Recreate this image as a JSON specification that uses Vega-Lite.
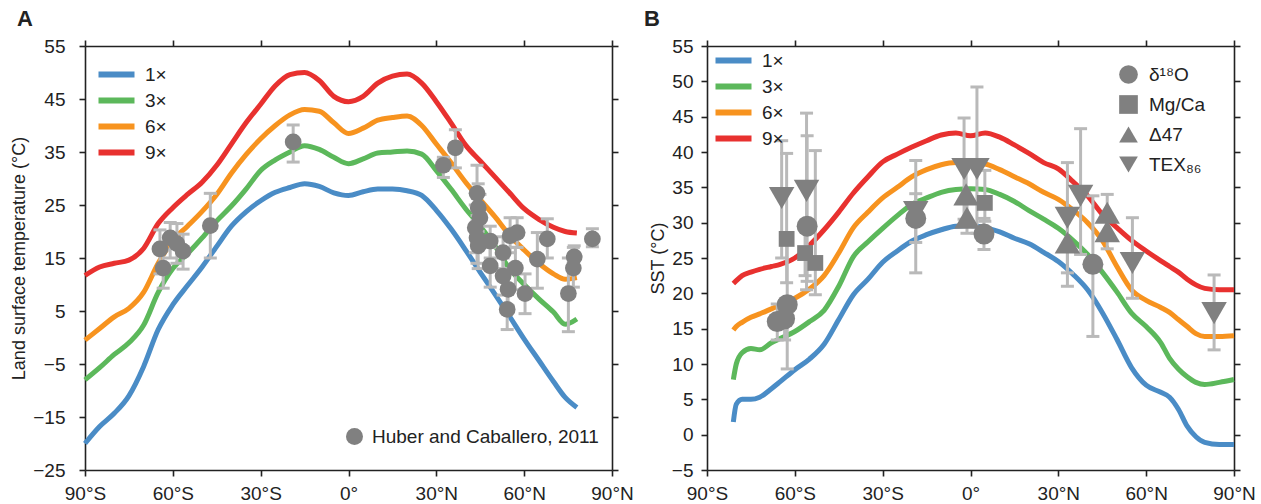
{
"$schema":"https://vega.github.io/schema/vega-lite/v6.json",
"padding":{"left":10,"top":8,"right":5,"bottom":0},
"config":{
 "font":"Liberation Sans",
 "view":{"stroke":null},
 "axis":{"grid":false,"domainColor":"#222","domainWidth":1.6,"tickColor":"#222","tickWidth":1.6,"tickSize":6,"labelFontSize":19,"labelColor":"#222","labelPadding":8,"titleFontSize":18,"titleFontWeight":"normal","titleColor":"#222","labelFlush":false,"labelOverlap":false},
 "legend":{"labelFontSize":19,"labelColor":"#222","labelLimit":0},
 "title":{"fontSize":22,"fontWeight":"bold","anchor":"start","color":"#222","frame":"group"}
},
"resolve":{"scale":{"color":"independent","shape":"independent","size":"independent"},"legend":{"color":"independent","shape":"independent"}},
"datasets":{
"linesA":[
{"lat":-90,"v":-20,"s":"1×"},{"lat":-85,"v":-16.8,"s":"1×"},{"lat":-80,"v":-14.3,"s":"1×"},{"lat":-75,"v":-11,"s":"1×"},{"lat":-70,"v":-5.5,"s":"1×"},{"lat":-65,"v":1.5,"s":"1×"},{"lat":-60,"v":6.2,"s":"1×"},{"lat":-55,"v":9.8,"s":"1×"},{"lat":-50,"v":13.3,"s":"1×"},{"lat":-45,"v":17.2,"s":"1×"},{"lat":-40,"v":21,"s":"1×"},{"lat":-35,"v":23.7,"s":"1×"},{"lat":-30,"v":25.8,"s":"1×"},{"lat":-25,"v":27.4,"s":"1×"},{"lat":-20,"v":28.3,"s":"1×"},{"lat":-15,"v":29,"s":"1×"},{"lat":-10,"v":28.5,"s":"1×"},{"lat":-5,"v":27.3,"s":"1×"},{"lat":0,"v":26.8,"s":"1×"},{"lat":5,"v":27.5,"s":"1×"},{"lat":10,"v":28,"s":"1×"},{"lat":15,"v":28,"s":"1×"},{"lat":20,"v":27.7,"s":"1×"},{"lat":25,"v":26.8,"s":"1×"},{"lat":30,"v":24,"s":"1×"},{"lat":35,"v":20.5,"s":"1×"},{"lat":40,"v":16.5,"s":"1×"},{"lat":45,"v":12.3,"s":"1×"},{"lat":50,"v":8.2,"s":"1×"},{"lat":55,"v":4,"s":"1×"},{"lat":60,"v":-0.3,"s":"1×"},{"lat":65,"v":-4.3,"s":"1×"},{"lat":70,"v":-8.3,"s":"1×"},{"lat":74,"v":-11.3,"s":"1×"},{"lat":78,"v":-13.2,"s":"1×"},
{"lat":-90,"v":-8,"s":"3×"},{"lat":-85,"v":-5.7,"s":"3×"},{"lat":-80,"v":-3.2,"s":"3×"},{"lat":-75,"v":-1,"s":"3×"},{"lat":-70,"v":2.3,"s":"3×"},{"lat":-65,"v":8.5,"s":"3×"},{"lat":-60,"v":13,"s":"3×"},{"lat":-55,"v":15.8,"s":"3×"},{"lat":-50,"v":18.8,"s":"3×"},{"lat":-45,"v":22,"s":"3×"},{"lat":-40,"v":24.8,"s":"3×"},{"lat":-35,"v":28,"s":"3×"},{"lat":-30,"v":31.5,"s":"3×"},{"lat":-25,"v":33.5,"s":"3×"},{"lat":-20,"v":35,"s":"3×"},{"lat":-15,"v":36.2,"s":"3×"},{"lat":-10,"v":35.5,"s":"3×"},{"lat":-5,"v":34,"s":"3×"},{"lat":0,"v":32.8,"s":"3×"},{"lat":5,"v":33.7,"s":"3×"},{"lat":10,"v":34.8,"s":"3×"},{"lat":15,"v":35,"s":"3×"},{"lat":20,"v":35.2,"s":"3×"},{"lat":25,"v":34.6,"s":"3×"},{"lat":30,"v":31.5,"s":"3×"},{"lat":35,"v":28,"s":"3×"},{"lat":40,"v":24.3,"s":"3×"},{"lat":45,"v":21,"s":"3×"},{"lat":50,"v":17.3,"s":"3×"},{"lat":55,"v":13,"s":"3×"},{"lat":60,"v":10,"s":"3×"},{"lat":65,"v":7.3,"s":"3×"},{"lat":70,"v":4.8,"s":"3×"},{"lat":74,"v":2.5,"s":"3×"},{"lat":78,"v":3.5,"s":"3×"},
{"lat":-90,"v":-0.5,"s":"6×"},{"lat":-85,"v":1.7,"s":"6×"},{"lat":-80,"v":3.9,"s":"6×"},{"lat":-75,"v":5.5,"s":"6×"},{"lat":-70,"v":8.5,"s":"6×"},{"lat":-65,"v":14,"s":"6×"},{"lat":-60,"v":18.3,"s":"6×"},{"lat":-55,"v":21,"s":"6×"},{"lat":-50,"v":23.8,"s":"6×"},{"lat":-45,"v":27,"s":"6×"},{"lat":-40,"v":31,"s":"6×"},{"lat":-35,"v":34.5,"s":"6×"},{"lat":-30,"v":37.5,"s":"6×"},{"lat":-25,"v":40,"s":"6×"},{"lat":-20,"v":42,"s":"6×"},{"lat":-15,"v":43,"s":"6×"},{"lat":-10,"v":42.7,"s":"6×"},{"lat":-5,"v":40.5,"s":"6×"},{"lat":0,"v":38.5,"s":"6×"},{"lat":5,"v":39.5,"s":"6×"},{"lat":10,"v":41,"s":"6×"},{"lat":15,"v":41.5,"s":"6×"},{"lat":20,"v":41.8,"s":"6×"},{"lat":25,"v":40,"s":"6×"},{"lat":30,"v":36.5,"s":"6×"},{"lat":35,"v":33,"s":"6×"},{"lat":40,"v":29.3,"s":"6×"},{"lat":45,"v":26,"s":"6×"},{"lat":50,"v":22.8,"s":"6×"},{"lat":55,"v":19.3,"s":"6×"},{"lat":60,"v":16.5,"s":"6×"},{"lat":65,"v":14,"s":"6×"},{"lat":70,"v":12,"s":"6×"},{"lat":74,"v":11,"s":"6×"},{"lat":78,"v":11.3,"s":"6×"},
{"lat":-90,"v":11.7,"s":"9×"},{"lat":-85,"v":13.3,"s":"9×"},{"lat":-80,"v":14,"s":"9×"},{"lat":-75,"v":14.6,"s":"9×"},{"lat":-70,"v":16.8,"s":"9×"},{"lat":-65,"v":21.5,"s":"9×"},{"lat":-60,"v":24.5,"s":"9×"},{"lat":-55,"v":27,"s":"9×"},{"lat":-50,"v":29.3,"s":"9×"},{"lat":-45,"v":32.5,"s":"9×"},{"lat":-40,"v":36.5,"s":"9×"},{"lat":-35,"v":40.5,"s":"9×"},{"lat":-30,"v":44,"s":"9×"},{"lat":-25,"v":47.5,"s":"9×"},{"lat":-20,"v":49.6,"s":"9×"},{"lat":-15,"v":50,"s":"9×"},{"lat":-10,"v":48.5,"s":"9×"},{"lat":-5,"v":45.5,"s":"9×"},{"lat":0,"v":44.5,"s":"9×"},{"lat":5,"v":45.5,"s":"9×"},{"lat":10,"v":48,"s":"9×"},{"lat":15,"v":49.3,"s":"9×"},{"lat":20,"v":49.7,"s":"9×"},{"lat":25,"v":48,"s":"9×"},{"lat":30,"v":44.5,"s":"9×"},{"lat":35,"v":40.5,"s":"9×"},{"lat":40,"v":36.3,"s":"9×"},{"lat":45,"v":33.3,"s":"9×"},{"lat":50,"v":30.3,"s":"9×"},{"lat":55,"v":27.3,"s":"9×"},{"lat":60,"v":24.3,"s":"9×"},{"lat":65,"v":22.3,"s":"9×"},{"lat":70,"v":20.8,"s":"9×"},{"lat":74,"v":20,"s":"9×"},{"lat":78,"v":19.7,"s":"9×"}
],
"ptsA":[
{"lat":-64.4,"v":16.7,"lo":12,"hi":20.3,"src":"Huber and Caballero, 2011"},
{"lat":-60.9,"v":18.8,"lo":15,"hi":21.7,"src":"Huber and Caballero, 2011"},
{"lat":-58.6,"v":17.7,"lo":14,"hi":21.5,"src":"Huber and Caballero, 2011"},
{"lat":-56.5,"v":16.3,"lo":12.9,"hi":19.5,"src":"Huber and Caballero, 2011"},
{"lat":-63.3,"v":13.1,"lo":9.3,"hi":16.5,"src":"Huber and Caballero, 2011"},
{"lat":-47.2,"v":21.1,"lo":15,"hi":27.2,"src":"Huber and Caballero, 2011"},
{"lat":-18.9,"v":36.9,"lo":33.1,"hi":40.1,"src":"Huber and Caballero, 2011"},
{"lat":32.4,"v":32.5,"lo":30.2,"hi":34,"src":"Huber and Caballero, 2011"},
{"lat":36.5,"v":35.8,"lo":32,"hi":39.2,"src":"Huber and Caballero, 2011"},
{"lat":43.9,"v":27.2,"lo":22,"hi":32.5,"src":"Huber and Caballero, 2011"},
{"lat":44.3,"v":24.5,"lo":20,"hi":29,"src":"Huber and Caballero, 2011"},
{"lat":44.9,"v":22.6,"lo":18,"hi":27,"src":"Huber and Caballero, 2011"},
{"lat":43.3,"v":20.7,"lo":16,"hi":25,"src":"Huber and Caballero, 2011"},
{"lat":43.9,"v":18.8,"lo":14,"hi":23,"src":"Huber and Caballero, 2011"},
{"lat":44.3,"v":17.3,"lo":13,"hi":21,"src":"Huber and Caballero, 2011"},
{"lat":48.4,"v":18.2,"lo":15,"hi":21,"src":"Huber and Caballero, 2011"},
{"lat":48.4,"v":13.5,"lo":9.5,"hi":17,"src":"Huber and Caballero, 2011"},
{"lat":52.8,"v":16,"lo":13,"hi":19,"src":"Huber and Caballero, 2011"},
{"lat":55.2,"v":19.2,"lo":16,"hi":22.6,"src":"Huber and Caballero, 2011"},
{"lat":57.6,"v":19.8,"lo":17,"hi":22.6,"src":"Huber and Caballero, 2011"},
{"lat":57,"v":13.1,"lo":9,"hi":17,"src":"Huber and Caballero, 2011"},
{"lat":52.8,"v":11.6,"lo":8,"hi":15,"src":"Huber and Caballero, 2011"},
{"lat":54.5,"v":9.1,"lo":6,"hi":12,"src":"Huber and Caballero, 2011"},
{"lat":54.2,"v":5.3,"lo":1.5,"hi":9,"src":"Huber and Caballero, 2011"},
{"lat":60.3,"v":8.3,"lo":4.5,"hi":12,"src":"Huber and Caballero, 2011"},
{"lat":64.5,"v":14.8,"lo":9.3,"hi":19.8,"src":"Huber and Caballero, 2011"},
{"lat":67.9,"v":18.6,"lo":15,"hi":22.4,"src":"Huber and Caballero, 2011"},
{"lat":83.3,"v":18.6,"lo":17.1,"hi":20.5,"src":"Huber and Caballero, 2011"},
{"lat":77.1,"v":15.2,"lo":13,"hi":17.3,"src":"Huber and Caballero, 2011"},
{"lat":76.8,"v":13.1,"lo":9.5,"hi":17,"src":"Huber and Caballero, 2011"},
{"lat":75.1,"v":8.3,"lo":1.1,"hi":15,"src":"Huber and Caballero, 2011"}
],
"linesB":[
{"lat":-81,"v":1.8,"s":"1×"},{"lat":-80,"v":4.3,"s":"1×"},{"lat":-78,"v":5,"s":"1×"},{"lat":-75,"v":5,"s":"1×"},{"lat":-72,"v":5.3,"s":"1×"},{"lat":-68,"v":6.5,"s":"1×"},{"lat":-65,"v":7.5,"s":"1×"},{"lat":-60,"v":9.2,"s":"1×"},{"lat":-55,"v":10.7,"s":"1×"},{"lat":-50,"v":12.8,"s":"1×"},{"lat":-45,"v":16.3,"s":"1×"},{"lat":-40,"v":19.8,"s":"1×"},{"lat":-35,"v":22,"s":"1×"},{"lat":-30,"v":24.4,"s":"1×"},{"lat":-25,"v":26,"s":"1×"},{"lat":-20,"v":27.4,"s":"1×"},{"lat":-15,"v":28.3,"s":"1×"},{"lat":-10,"v":29,"s":"1×"},{"lat":-5,"v":29.5,"s":"1×"},{"lat":0,"v":29.6,"s":"1×"},{"lat":5,"v":29.3,"s":"1×"},{"lat":10,"v":28.7,"s":"1×"},{"lat":15,"v":27.8,"s":"1×"},{"lat":20,"v":27,"s":"1×"},{"lat":25,"v":25.8,"s":"1×"},{"lat":30,"v":24.5,"s":"1×"},{"lat":35,"v":22.7,"s":"1×"},{"lat":40,"v":20.5,"s":"1×"},{"lat":45,"v":17.3,"s":"1×"},{"lat":50,"v":13.5,"s":"1×"},{"lat":55,"v":9.5,"s":"1×"},{"lat":60,"v":7,"s":"1×"},{"lat":65,"v":6,"s":"1×"},{"lat":68,"v":5.3,"s":"1×"},{"lat":71,"v":3.6,"s":"1×"},{"lat":74,"v":1.2,"s":"1×"},{"lat":77,"v":-0.3,"s":"1×"},{"lat":80,"v":-1.1,"s":"1×"},{"lat":85,"v":-1.4,"s":"1×"},{"lat":90,"v":-1.4,"s":"1×"},
{"lat":-81,"v":7.8,"s":"3×"},{"lat":-80,"v":10,"s":"3×"},{"lat":-78,"v":11.6,"s":"3×"},{"lat":-75,"v":12.2,"s":"3×"},{"lat":-72,"v":12,"s":"3×"},{"lat":-68,"v":13,"s":"3×"},{"lat":-65,"v":13.6,"s":"3×"},{"lat":-60,"v":14.6,"s":"3×"},{"lat":-55,"v":16,"s":"3×"},{"lat":-50,"v":17.6,"s":"3×"},{"lat":-45,"v":21,"s":"3×"},{"lat":-40,"v":25.2,"s":"3×"},{"lat":-35,"v":27.3,"s":"3×"},{"lat":-30,"v":29.2,"s":"3×"},{"lat":-25,"v":31,"s":"3×"},{"lat":-20,"v":32.6,"s":"3×"},{"lat":-15,"v":33.5,"s":"3×"},{"lat":-10,"v":34.3,"s":"3×"},{"lat":-5,"v":34.7,"s":"3×"},{"lat":0,"v":34.8,"s":"3×"},{"lat":5,"v":34.7,"s":"3×"},{"lat":10,"v":34,"s":"3×"},{"lat":15,"v":33,"s":"3×"},{"lat":20,"v":31.7,"s":"3×"},{"lat":25,"v":30.5,"s":"3×"},{"lat":30,"v":29.2,"s":"3×"},{"lat":35,"v":27.5,"s":"3×"},{"lat":40,"v":25.5,"s":"3×"},{"lat":45,"v":23,"s":"3×"},{"lat":50,"v":20.2,"s":"3×"},{"lat":55,"v":17.2,"s":"3×"},{"lat":60,"v":15.3,"s":"3×"},{"lat":65,"v":13,"s":"3×"},{"lat":68,"v":10.8,"s":"3×"},{"lat":71,"v":9.3,"s":"3×"},{"lat":74,"v":8.2,"s":"3×"},{"lat":77,"v":7.4,"s":"3×"},{"lat":80,"v":7.1,"s":"3×"},{"lat":85,"v":7.4,"s":"3×"},{"lat":90,"v":7.8,"s":"3×"},
{"lat":-81,"v":14.8,"s":"6×"},{"lat":-80,"v":15.3,"s":"6×"},{"lat":-78,"v":15.9,"s":"6×"},{"lat":-75,"v":16.6,"s":"6×"},{"lat":-72,"v":17.1,"s":"6×"},{"lat":-68,"v":17.8,"s":"6×"},{"lat":-65,"v":18.4,"s":"6×"},{"lat":-60,"v":19.3,"s":"6×"},{"lat":-55,"v":20.6,"s":"6×"},{"lat":-50,"v":22.5,"s":"6×"},{"lat":-45,"v":25.7,"s":"6×"},{"lat":-40,"v":29.3,"s":"6×"},{"lat":-35,"v":31.5,"s":"6×"},{"lat":-30,"v":33.5,"s":"6×"},{"lat":-25,"v":35,"s":"6×"},{"lat":-20,"v":36.5,"s":"6×"},{"lat":-15,"v":37.5,"s":"6×"},{"lat":-10,"v":38.2,"s":"6×"},{"lat":-5,"v":38.5,"s":"6×"},{"lat":0,"v":38.5,"s":"6×"},{"lat":5,"v":38.3,"s":"6×"},{"lat":10,"v":37.5,"s":"6×"},{"lat":15,"v":36.5,"s":"6×"},{"lat":20,"v":35.5,"s":"6×"},{"lat":25,"v":34.3,"s":"6×"},{"lat":30,"v":33.3,"s":"6×"},{"lat":35,"v":31.8,"s":"6×"},{"lat":40,"v":30,"s":"6×"},{"lat":45,"v":27.5,"s":"6×"},{"lat":50,"v":23.8,"s":"6×"},{"lat":55,"v":20.5,"s":"6×"},{"lat":60,"v":19,"s":"6×"},{"lat":65,"v":18,"s":"6×"},{"lat":68,"v":17.3,"s":"6×"},{"lat":71,"v":16.3,"s":"6×"},{"lat":74,"v":15.3,"s":"6×"},{"lat":77,"v":14.3,"s":"6×"},{"lat":80,"v":13.9,"s":"6×"},{"lat":85,"v":13.9,"s":"6×"},{"lat":90,"v":14,"s":"6×"},
{"lat":-81,"v":21.4,"s":"9×"},{"lat":-80,"v":21.8,"s":"9×"},{"lat":-78,"v":22.5,"s":"9×"},{"lat":-75,"v":23,"s":"9×"},{"lat":-72,"v":23.4,"s":"9×"},{"lat":-68,"v":23.8,"s":"9×"},{"lat":-65,"v":24.1,"s":"9×"},{"lat":-60,"v":25,"s":"9×"},{"lat":-55,"v":26.8,"s":"9×"},{"lat":-50,"v":29,"s":"9×"},{"lat":-45,"v":31.5,"s":"9×"},{"lat":-40,"v":34.2,"s":"9×"},{"lat":-35,"v":36.5,"s":"9×"},{"lat":-30,"v":38.6,"s":"9×"},{"lat":-25,"v":39.7,"s":"9×"},{"lat":-20,"v":40.7,"s":"9×"},{"lat":-15,"v":41.6,"s":"9×"},{"lat":-10,"v":42.4,"s":"9×"},{"lat":-5,"v":42.7,"s":"9×"},{"lat":0,"v":42.3,"s":"9×"},{"lat":5,"v":42.7,"s":"9×"},{"lat":10,"v":42.1,"s":"9×"},{"lat":15,"v":41,"s":"9×"},{"lat":20,"v":39.8,"s":"9×"},{"lat":25,"v":38.5,"s":"9×"},{"lat":30,"v":37.6,"s":"9×"},{"lat":35,"v":35.8,"s":"9×"},{"lat":40,"v":33.8,"s":"9×"},{"lat":45,"v":31.2,"s":"9×"},{"lat":50,"v":29.3,"s":"9×"},{"lat":55,"v":27.5,"s":"9×"},{"lat":60,"v":26,"s":"9×"},{"lat":65,"v":24.6,"s":"9×"},{"lat":68,"v":23.8,"s":"9×"},{"lat":71,"v":23,"s":"9×"},{"lat":74,"v":22,"s":"9×"},{"lat":77,"v":21.2,"s":"9×"},{"lat":80,"v":20.7,"s":"9×"},{"lat":85,"v":20.5,"s":"9×"},{"lat":90,"v":20.5,"s":"9×"}
],
"ptsB":[
{"p":"TEX₈₆","lat":-64.5,"v":33.5,"lo":25,"hi":41.6},
{"p":"Mg/Ca","lat":-62.8,"v":27.7,"lo":21.5,"hi":39.8},
{"p":"δ¹⁸O","lat":-62.6,"v":18.4,"lo":9.3,"hi":27},
{"p":"δ¹⁸O","lat":-66,"v":16,"lo":13.4,"hi":18.5},
{"p":"δ¹⁸O","lat":-63.5,"v":16.4,"lo":13.4,"hi":19},
{"p":"TEX₈₆","lat":-56,"v":34.5,"lo":20.5,"hi":45.5},
{"p":"δ¹⁸O","lat":-55.8,"v":29.5,"lo":21.7,"hi":42.3},
{"p":"Mg/Ca","lat":-56.5,"v":25.7,"lo":22.5,"hi":29},
{"p":"Mg/Ca","lat":-53,"v":24.3,"lo":19.8,"hi":40.2},
{"p":"δ¹⁸O","lat":-18.7,"v":30.6,"lo":22.9,"hi":38.8},
{"p":"TEX₈₆","lat":-18.7,"v":31.5,"lo":27.2,"hi":34.1},
{"p":"Δ47","lat":-1.5,"v":34,"lo":30,"hi":38},
{"p":"Δ47","lat":-1.2,"v":30.7,"lo":28.5,"hi":33},
{"p":"TEX₈₆","lat":-2.2,"v":37.6,"lo":30.5,"hi":44.8},
{"p":"TEX₈₆","lat":2.2,"v":37.6,"lo":28.5,"hi":49.2},
{"p":"Mg/Ca","lat":4.9,"v":32.8,"lo":30.2,"hi":37.4},
{"p":"δ¹⁸O","lat":4.6,"v":28.4,"lo":26.2,"hi":30.6},
{"p":"TEX₈₆","lat":33.1,"v":30.7,"lo":22.9,"hi":38.5},
{"p":"Δ47","lat":33.1,"v":27.2,"lo":21,"hi":31},
{"p":"TEX₈₆","lat":37.6,"v":33.8,"lo":25.5,"hi":43.3},
{"p":"δ¹⁸O","lat":41.8,"v":24.1,"lo":13.9,"hi":33.8},
{"p":"Δ47","lat":46.7,"v":31.4,"lo":28.5,"hi":34},
{"p":"Δ47","lat":46.7,"v":28.8,"lo":26.3,"hi":31},
{"p":"TEX₈₆","lat":55.3,"v":24.3,"lo":19.3,"hi":30.7},
{"p":"TEX₈₆","lat":83.2,"v":17.2,"lo":12,"hi":22.6}
]
},
"spacing":10,
"hconcat":[
{
 "width":527,"height":424,
 "title":{"text":"A","dx":-68,"offset":6},
 "layer":[
  {"data":{"name":"linesA"},"mark":{"type":"line","strokeWidth":5,"interpolate":"monotone"},
   "encoding":{
    "x":{"field":"lat","type":"quantitative","scale":{"domain":[-90,90],"nice":false,"zero":false},"axis":{"orient":"bottom","values":[-90,-60,-30,0,30,60,90],"title":null,"labelExpr":"datum.value < 0 ? (-datum.value) + '°S' : (datum.value > 0 ? datum.value + '°N' : '0°')"}},
    "y":{"field":"v","type":"quantitative","scale":{"domain":[-25,55],"nice":false,"zero":false},"axis":{"orient":"left","values":[-25,-15,-5,5,15,25,35,45,55],"title":"Land surface temperature (°C)","titlePadding":4,"labelPadding":14,"labelExpr":"datum.value < 0 ? '−' + (-datum.value) : '' + datum.value"}},
    "color":{"field":"s","type":"nominal","scale":{"domain":["1×","3×","6×","9×"],"range":["#4a8cc6","#5cb85b","#f7931f","#e8312f"]},
     "legend":{"title":null,"orient":"none","legendX":22,"legendY":19,"symbolType":"M-3,0H3","symbolSize":144,"symbolStrokeWidth":6,"labelOffset":19,"rowPadding":1}}
   }},
  {"data":{"name":"ptsA"},"mark":{"type":"rule","color":"#b9b9b9","strokeWidth":3},
   "encoding":{"x":{"field":"lat","type":"quantitative","axis":null},"y":{"field":"lo","type":"quantitative","axis":null},"y2":{"field":"hi"}}},
  {"data":{"name":"ptsA"},"mark":{"type":"tick","color":"#b9b9b9","thickness":3,"size":13,"orient":"horizontal","opacity":1},
   "encoding":{"x":{"field":"lat","type":"quantitative","axis":null},"y":{"field":"lo","type":"quantitative","axis":null}}},
  {"data":{"name":"ptsA"},"mark":{"type":"tick","color":"#b9b9b9","thickness":3,"size":13,"orient":"horizontal","opacity":1},
   "encoding":{"x":{"field":"lat","type":"quantitative","axis":null},"y":{"field":"hi","type":"quantitative","axis":null}}},
  {"data":{"name":"ptsA"},"mark":{"type":"point","filled":true,"opacity":1,"color":"#808080","size":280},
   "encoding":{
    "x":{"field":"lat","type":"quantitative","axis":{"orient":"top","values":[-90,-60,-30,0,30,60,90],"labels":false,"title":null}},
    "y":{"field":"v","type":"quantitative","axis":{"orient":"right","values":[-25,-15,-5,5,15,25,35,45,55],"labels":false,"title":null}},
    "shape":{"field":"src","type":"nominal","scale":{"range":["circle"]},"legend":{"title":null,"orient":"none","legendX":260,"legendY":381,"symbolSize":289,"symbolFillColor":"#808080","symbolStrokeWidth":0,"labelOffset":8}}
   }}
 ],
 "resolve":{"axis":{"x":"independent","y":"independent"}}
},
{
 "width":527,"height":424,
 "title":{"text":"B","dx":-63,"offset":6},
 "layer":[
  {"data":{"name":"linesB"},"mark":{"type":"line","strokeWidth":5,"interpolate":"monotone"},
   "encoding":{
    "x":{"field":"lat","type":"quantitative","scale":{"domain":[-90,90],"nice":false,"zero":false},"axis":{"orient":"bottom","values":[-90,-60,-30,0,30,60,90],"title":null,"labelExpr":"datum.value < 0 ? (-datum.value) + '°S' : (datum.value > 0 ? datum.value + '°N' : '0°')"}},
    "y":{"field":"v","type":"quantitative","scale":{"domain":[-5,55],"nice":false,"zero":false},"axis":{"orient":"left","values":[-5,0,5,10,15,20,25,30,35,40,45,50,55],"title":"SST (°C)","titlePadding":4,"labelExpr":"datum.value < 0 ? '−' + (-datum.value) : '' + datum.value"}},
    "color":{"field":"s","type":"nominal","scale":{"domain":["1×","3×","6×","9×"],"range":["#4a8cc6","#5cb85b","#f7931f","#e8312f"]},
     "legend":{"title":null,"orient":"none","legendX":17,"legendY":5,"symbolType":"M-3,0H3","symbolSize":144,"symbolStrokeWidth":6,"labelOffset":19,"rowPadding":1}}
   }},
  {"data":{"name":"ptsB"},"mark":{"type":"rule","color":"#b9b9b9","strokeWidth":3},
   "encoding":{"x":{"field":"lat","type":"quantitative","axis":null},"y":{"field":"lo","type":"quantitative","axis":null},"y2":{"field":"hi"}}},
  {"data":{"name":"ptsB"},"mark":{"type":"tick","color":"#b9b9b9","thickness":3,"size":13,"orient":"horizontal","opacity":1},
   "encoding":{"x":{"field":"lat","type":"quantitative","axis":null},"y":{"field":"lo","type":"quantitative","axis":null}}},
  {"data":{"name":"ptsB"},"mark":{"type":"tick","color":"#b9b9b9","thickness":3,"size":13,"orient":"horizontal","opacity":1},
   "encoding":{"x":{"field":"lat","type":"quantitative","axis":null},"y":{"field":"hi","type":"quantitative","axis":null}}},
  {"data":{"name":"ptsB"},"transform":[{"filter":"datum.p === 'δ¹⁸O'"}],"mark":{"type":"point","filled":true,"opacity":1,"color":"#808080","size":440},
   "encoding":{
    "x":{"field":"lat","type":"quantitative","axis":{"orient":"top","values":[-90,-60,-30,0,30,60,90],"labels":false,"title":null}},
    "y":{"field":"v","type":"quantitative","axis":{"orient":"right","values":[-5,0,5,10,15,20,25,30,35,40,45,50,55],"labels":false,"title":null}},
    "shape":{"field":"p","type":"nominal","scale":{"domain":["δ¹⁸O","Mg/Ca","Δ47","TEX₈₆"],"range":["circle","square","triangle-up","triangle-down"]},"legend":{"title":null,"orient":"none","legendX":412,"legendY":19,"symbolSize":350,"symbolFillColor":"#808080","symbolStrokeWidth":0,"labelOffset":11,"rowPadding":10}}
   }},
  {"data":{"name":"ptsB"},"transform":[{"filter":"datum.p === 'Mg/Ca'"}],"mark":{"type":"point","filled":true,"opacity":1,"color":"#808080","size":250},
   "encoding":{
    "x":{"field":"lat","type":"quantitative","axis":null},
    "y":{"field":"v","type":"quantitative","axis":null},
    "shape":{"field":"p","type":"nominal","scale":{"domain":["δ¹⁸O","Mg/Ca","Δ47","TEX₈₆"],"range":["circle","square","triangle-up","triangle-down"]},"legend":{"title":null,"orient":"none","legendX":412,"legendY":19,"symbolSize":350,"symbolFillColor":"#808080","symbolStrokeWidth":0,"labelOffset":11,"rowPadding":10}}
   }},
  {"data":{"name":"ptsB"},"transform":[{"filter":"datum.p === 'Δ47' || datum.p === 'TEX₈₆'"}],"mark":{"type":"point","filled":true,"opacity":1,"color":"#808080","size":650},
   "encoding":{
    "x":{"field":"lat","type":"quantitative","axis":null},
    "y":{"field":"v","type":"quantitative","axis":null},
    "shape":{"field":"p","type":"nominal","scale":{"domain":["δ¹⁸O","Mg/Ca","Δ47","TEX₈₆"],"range":["circle","square","triangle-up","triangle-down"]},"legend":{"title":null,"orient":"none","legendX":412,"legendY":19,"symbolSize":350,"symbolFillColor":"#808080","symbolStrokeWidth":0,"labelOffset":11,"rowPadding":10}}
   }}
 ],
 "resolve":{"axis":{"x":"independent","y":"independent"}}
}
]
}
